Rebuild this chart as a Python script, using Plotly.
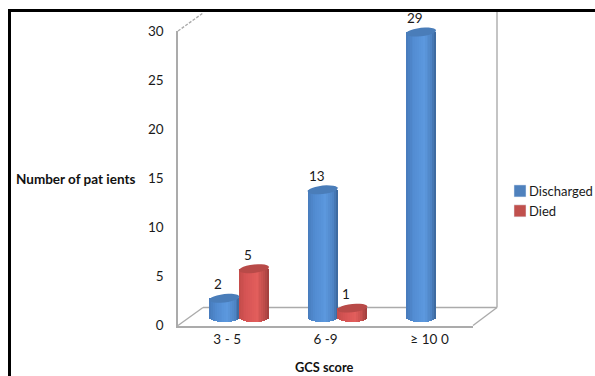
import math
import plotly.graph_objects as go

categories = ["3 - 5", "6 -9", "≥ 10"]
discharged = [2, 13, 29]
died = [5, 1, 0]
y_ticks = [0, 5, 10, 15, 20, 25, 30]

W, H = 595, 376
FONT = "Lato, Carlito, 'Open Sans', sans-serif"
TEXT = "#1a1a1a"
WALL = "#ababab"


def px_x(p):
    return p / W


def px_y(p):
    return 1 - p / H


# pixel geometry of the two coordinate systems (front frame / bars set back in the 3D box)
FRONT_L, FRONT_R, FRONT_0, FRONT_30 = 178, 473, 325.5, 31
BAR_L, BAR_R = 190, 485
PX_PER_UNIT = 9.86
BAR_0 = 318
Y2_MIN, Y2_MAX = -1, 30
PX_PER_CAT = (BAR_R - BAR_L) / 3
HALF_W = 15 / PX_PER_CAT
OFFSET = 14.8 / PX_PER_CAT
CAP_H = 4.2 / PX_PER_UNIT
CAP_TILT = 1.6 / PX_PER_UNIT
N = 16

STOPS = {
    "Discharged": [(0.0, (70, 122, 186)), (0.25, (82, 140, 210)), (0.6, (92, 152, 222)), (0.85, (78, 132, 196)), (1.0, (58, 100, 152))],
    "Died": [(0.0, (196, 76, 74)), (0.25, (214, 84, 84)), (0.6, (226, 94, 92)), (0.85, (190, 76, 74)), (1.0, (158, 62, 60))],
}
CAP = {"Discharged": "#4a7db9", "Died": "#b84a48"}
LEGEND = {"Discharged": "#4F81BD", "Died": "#C0504D"}


def shade(name, t):
    stops = STOPS[name]
    for (a, ca), (b, cb) in zip(stops, stops[1:]):
        if a <= t <= b:
            f = (t - a) / (b - a)
            c = [round(ca[i] + (cb[i] - ca[i]) * f) for i in range(3)]
            return f"rgb({c[0]},{c[1]},{c[2]})"
    return "rgb(0,0,0)"


fig = go.Figure()

# category and value axes on the front frame
fig.add_trace(go.Scatter(x=[0, 1, 2], y=[None, None, None], xaxis="x", yaxis="y",
                         showlegend=False, hoverinfo="skip"))

shapes = []
annotations = []
series = [("Discharged", discharged, -OFFSET), ("Died", died, OFFSET)]

for name, values, off in series:
    fig.add_trace(go.Bar(x=[0], y=[None], name=name, marker_color=LEGEND[name],
                         xaxis="x2", yaxis="y2", showlegend=True))
    for k in range(N):
        t = (k + 0.5) / N
        u = 2 * t - 1
        sag = CAP_H * math.sqrt(1 - u * u)
        fig.add_trace(go.Bar(
            x=[i + off + u * HALF_W for i in range(len(values))],
            y=[v + sag if v > 0 else 0 for v in values],
            base=[-sag for _ in values],
            width=2 * HALF_W / N * 1.12,
            marker=dict(color=shade(name, t), line_width=0),
            xaxis="x2", yaxis="y2", showlegend=False, hoverinfo="skip",
        ))
    for i, v in enumerate(values):
        cx = i + off
        if v > 0:
            pts = []
            for a in range(0, 360, 15):
                r = math.radians(a)
                px = cx + HALF_W * math.cos(r)
                py = v + CAP_H * math.sin(r) + CAP_TILT * math.cos(r)
                pts.append(f"{px:.4f},{py:.4f}")
            shapes.append(dict(type="path", xref="x2", yref="y2",
                               path="M" + " L".join(pts) + " Z",
                               fillcolor=CAP[name], line=dict(width=0), layer="above"))
        annotations.append(dict(
            x=cx, y=v, xref="x2", yref="y2", text=str(v), showarrow=False,
            xshift=-6, yshift=(-21 if v == 0 else 14), yanchor="middle",
            font=dict(family=FONT, size=13.5, color=TEXT)))

# 3D box behind the plot
frame = [
    (FRONT_L, FRONT_30, 203, 13, "3px,1.5px"),
    (FRONT_L, 325.5, 203, 307.5, "solid"),
    (203, 307.5, 497, 307.5, "solid"),
    (497, 307.5, 497, 12, "solid"),
    (FRONT_R, 325.5, 497, 307.5, "solid"),
]
for x0, y0, x1, y1, dash in frame:
    shapes.append(dict(type="line", xref="paper", yref="paper",
                       x0=px_x(x0), y0=px_y(y0), x1=px_x(x1), y1=px_y(y1),
                       line=dict(color=WALL, width=1.4, dash=dash), layer="below"))

# black image border (top and left)
shapes.append(dict(type="line", xref="paper", yref="paper", x0=px_x(8), y0=px_y(10.5),
                   x1=1, y1=px_y(10.5), line=dict(color="#000", width=3)))
shapes.append(dict(type="line", xref="paper", yref="paper", x0=px_x(9.5), y0=px_y(9),
                   x1=px_x(9.5), y1=0, line=dict(color="#000", width=3)))

annotations.append(dict(x=px_x(75), y=px_y(179), xref="paper", yref="paper",
                        xanchor="center", yanchor="middle",
                        text="<b>Number of pat ients</b>", showarrow=False,
                        font=dict(family=FONT, size=13.5, color="#111")))
annotations.append(dict(x=px_x(324), y=px_y(367), xref="paper", yref="paper",
                        xanchor="center", yanchor="middle",
                        text="<b>GCS score</b>", showarrow=False,
                        font=dict(family=FONT, size=12.8, color="#111")))

fig.update_layout(
    width=W, height=H,
    margin=dict(l=0, r=0, t=0, b=0, pad=0, autoexpand=False),
    paper_bgcolor="white", plot_bgcolor="rgba(0,0,0,0)",
    barmode="overlay", bargap=0,
    shapes=shapes, annotations=annotations,
    legend=dict(x=px_x(500), y=px_y(176), xanchor="left", yanchor="top",
                font=dict(family=FONT, size=13, color=TEXT),
                bgcolor="rgba(0,0,0,0)", itemwidth=30, indentation=-11, tracegroupgap=0),
    xaxis=dict(domain=[px_x(FRONT_L), px_x(FRONT_R)], range=[-0.5, 2.5],
               tickmode="array", tickvals=[0, 1, 2], ticktext=categories,
               showgrid=False, zeroline=False, showline=True, linecolor=WALL, linewidth=1.5,
               ticks="", ticklabelstandoff=1, anchor="y",
               tickfont=dict(family=FONT, size=13.5, color=TEXT)),
    yaxis=dict(domain=[px_y(FRONT_0), px_y(FRONT_30)], range=[0, 30],
               tickmode="array", tickvals=y_ticks,
               showgrid=False, zeroline=False, showline=True, linecolor=WALL, linewidth=1.5,
               ticks="", ticklabelstandoff=10, anchor="x",
               tickfont=dict(family=FONT, size=13.5, color=TEXT)),
    xaxis2=dict(domain=[px_x(BAR_L), px_x(BAR_R)], range=[-0.5, 2.5], visible=False, anchor="y2"),
    yaxis2=dict(domain=[px_y(BAR_0 - Y2_MIN * PX_PER_UNIT), px_y(BAR_0 - Y2_MAX * PX_PER_UNIT)],
                range=[Y2_MIN, Y2_MAX], visible=False, anchor="x2"),
)

fig.write_html("out.html", config=dict(displayModeBar=False),
               post_script="document.body.style.margin='0';document.body.style.overflow='hidden';"
                           "document.querySelectorAll('.legendsymbols').forEach("
                           "function(g){g.setAttribute('transform','translate(11,0)');});")
